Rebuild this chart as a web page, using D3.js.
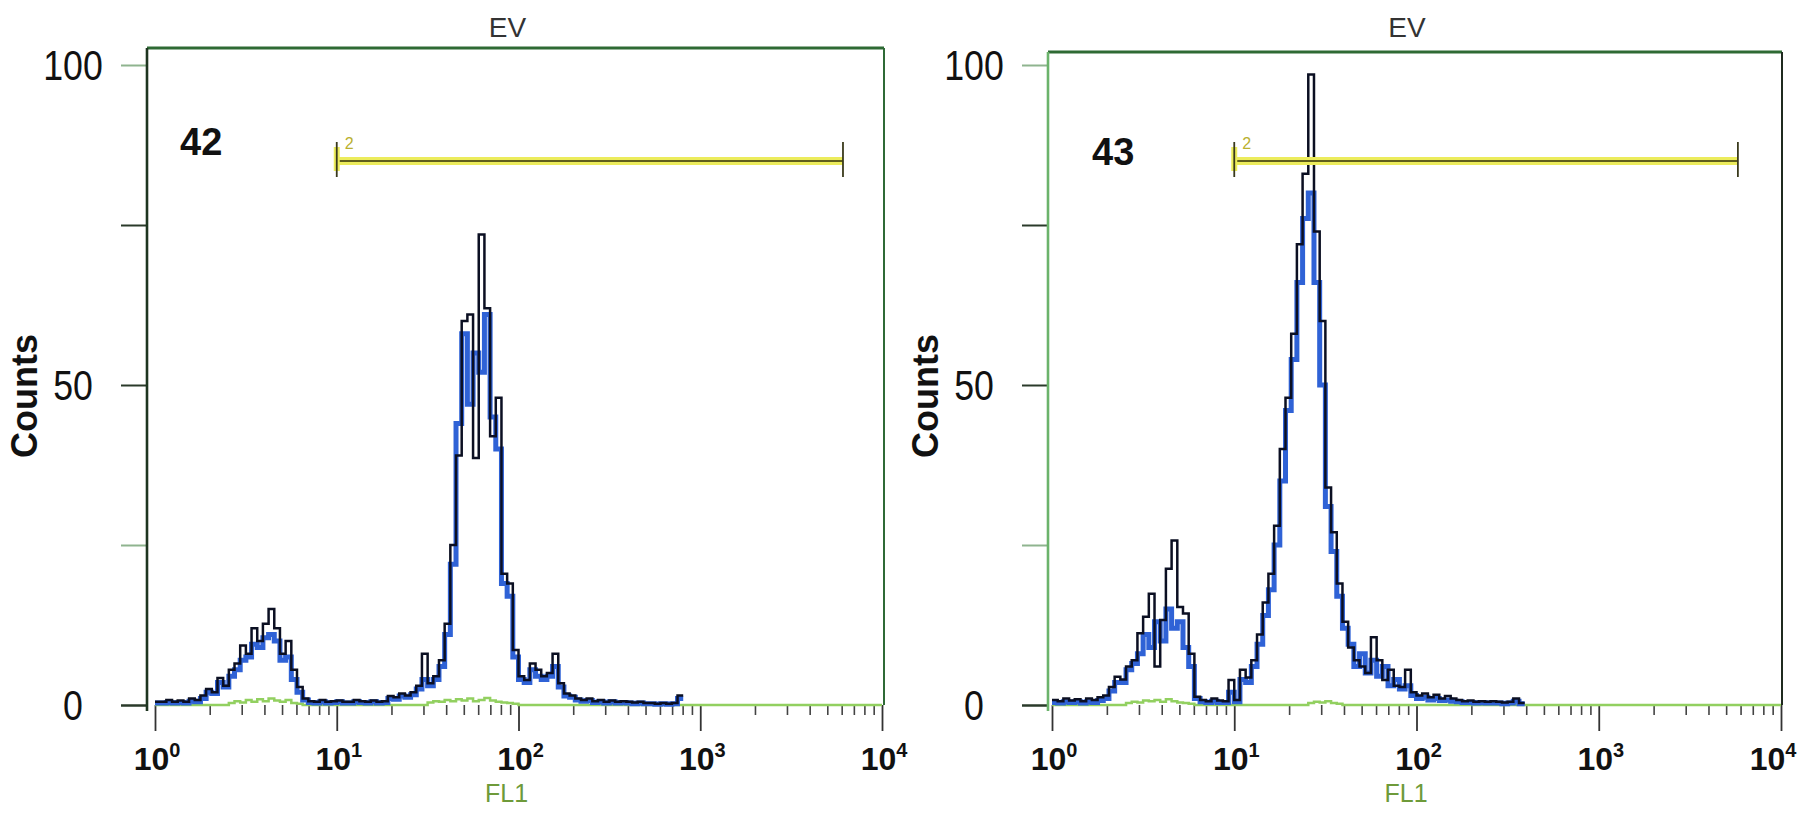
<!DOCTYPE html>
<html>
<head>
<meta charset="utf-8">
<script src="https://cdn.jsdelivr.net/npm/d3@7"></script>
<style>
body { margin: 0; background: #fff; }
svg { display: block; font-family: "Liberation Sans", Arial, sans-serif; }
</style>
</head>
<body>
<script>
var W = 1800, H = 817;
var binW = 4 / 128; // one FL1 channel, in decades

var sampleIds = ['42', '43'];
var panelTitle = 'EV';
var xTitle = 'FL1';
var yTitle = 'Counts';
var decades = [1, 10, 100, 1000, 10000];
var decadeExp = ['0', '1', '2', '3', '4'];
var yTicks = [0, 25, 50, 75, 100];
var yLabelled = [0, 50, 100];
var markerName = '2';
var markerFrom = [10, 10];
var markerTo = [6100, 5800];
var markerLevel = [85, 85];

// sample 42, counts per channel
var black42 = [
  0.5,0.5,0.8,0.5,0.7,0.5,1,0.8,1.5,2.5,
  2,4.2,3,5.5,6.5,9.3,8,12,10,12.7,
  15,12,8,10,5.5,2.8,1,0.6,0.5,0.8,
  0.5,0.6,0.7,0.5,0.5,0.8,0.6,0.5,0.7,0.5,
  0.6,1.4,1.2,1.8,1.5,2,3,8,3.4,4.5,
  7,12.7,25,39,60,61,38.6,73.5,62,42,
  48,20.5,19,8.6,4.5,3.9,6.5,5.5,4.5,5,
  8,3.4,1.8,1.5,1,0.8,1,0.6,0.8,0.5,
  0.7,0.5,0.6,0.5,0.4,0.5,0.3,0.3,0.2,0.3,
  0.2,0.3,1.5
];
var blue42 = [
  0.3,0.3,0.4,0.3,0.4,0.3,0.6,0.5,1,2,
  1.8,3.5,2.8,4.5,5.5,7,7.5,9.5,9,10.5,
  11,10,7,7.5,4,2,0.8,0.4,0.3,0.5,
  0.3,0.4,0.5,0.3,0.3,0.5,0.4,0.3,0.5,0.3,
  0.4,1,0.9,1.4,1.2,1.6,2.5,4,3,4,
  6,11,22,44,58,47,55,52,61,45,
  40,19,17,7.5,4,3.5,5.5,4.5,4,4.5,
  6,2.8,1.4,1.2,0.8,0.6,0.7,0.4,0.5,0.3,
  0.5,0.3,0.4,0.3,0.2,0.3,0.2,0.2,0.1,0.2,
  0.1,0.2,1
];
var control42 = [
  0,0,0,0,0,0,0,0,0,0,0,0,0,
  0.3,0.6,0.4,0.8,0.5,0.9,0.6,1,0.7,0.5,0.8,0.3,0.2,
  0,0,0,0,0,0,0,0,0,0,0,0,0,0,0,0,0,0,0,0,0,0,
  0.4,0.6,0.5,0.8,0.6,0.9,0.7,1,0.6,0.8,1.1,0.7,0.5,0.4,0.3,0.2,
  0,0,0,0,0,0,0,0, 0,0,0,0,0,0,0,0, 0,0,0,0,0,0,0,0, 0,0,0,0,0,0,0,0,
  0,0,0,0,0,0,0,0, 0,0,0,0,0,0,0,0, 0,0,0,0,0,0,0,0, 0,0,0,0,0,0,0,0
];

// sample 43
var black43 = [
  0.8,0.6,1,0.7,0.9,0.6,1,0.8,1.2,1.5,
  2.8,4.4,4,6,7,11.2,13.8,17.4,6,13.3,
  21.3,25.7,15.3,14.3,8,1.3,0.8,0.6,1,0.7,
  0.6,3.9,0.8,5.5,4.3,7,11,16,20.5,28,
  40,48,58,72,83,98.5,74,60,34,27,
  19,13,9,7,6,5,10.6,7,3.9,5.5,
  3,2.8,5.5,2,1.5,1.8,1.2,1.6,1,1.4,
  1,0.8,0.6,0.7,0.5,0.6,0.5,0.6,0.5,0.4,
  0.5,1,0.3
];
var blue43 = [
  0.4,0.3,0.5,0.4,0.5,0.3,0.5,0.4,0.7,1,
  2.2,3.5,3.5,5.5,6.5,8,11,9,13,10,
  15,12,13,9,6,1,0.5,0.4,0.6,0.4,
  0.4,2,0.5,4,3.5,6,9.5,14,18,25,
  35,46,54,66,76,80,66,50,31,24,
  17,12,9.5,6,8,5,7,4.5,6,3,
  4,2.5,3,1.5,1,1.2,0.8,1,0.7,0.8,
  0.6,0.5,0.4,0.4,0.3,0.4,0.3,0.3,0.3,0.2,
  0.3,0.6,0.2
];
var control43 = [
  0,0,0,0,0,0,0,0,0,0,0,0,0,
  0.3,0.5,0.4,0.7,0.6,0.8,0.5,0.9,0.6,0.4,0.3,0.2,
  0,0,0,0,0,0,0,0,0,0,0,0,0,0,0,0,0,0,0,0,
  0.3,0.5,0.4,0.6,0.3,0.2,
  0,0,0,0,0,0,0,0, 0,0,0,0,0,0,0,0, 0,0,0,0,0,0,0,0, 0,0,0,0,0,0,0,0,
  0,0,0,0,0,0,0,0, 0,0,0,0,0,0,0,0, 0,0,0,0,0,0,0,0, 0,0,0,0,0,0,0,0,
  0,0,0,0,0,0,0,0,0,0,0,0,0
];

var panels = [
  { id: sampleIds[0], black: black42, blue: blue42, control: control42,
    x0: 155, x1: 882, axisX: 147, top: 48, right: 884, idX: 180, idY: 155,
    axisColor: '#1e3520', edgeColor: '#2f6a36', markerFrom: markerFrom[0], markerTo: markerTo[0], markerLevel: markerLevel[0] },
  { id: sampleIds[1], black: black43, blue: blue43, control: control43,
    x0: 1052, x1: 1781, axisX: 1048, top: 52, right: 1782, idX: 1092, idY: 165,
    axisColor: '#6bb36b', edgeColor: '#1f2a1f', markerFrom: markerFrom[1], markerTo: markerTo[1], markerLevel: markerLevel[1] }
];

var yBase = 705, y100 = 65;

var svg = d3.select('body').append('svg')
  .attr('width', W).attr('height', H);

function histPoints(counts) {
  var pts = counts.map(function(c, i) { return { lg: i * binW, c: c }; });
  pts.push({ lg: counts.length * binW, c: counts[counts.length - 1] });
  return pts;
}

panels.forEach(function(p) {
  var x = d3.scaleLog().domain([1, 10000]).range([p.x0, p.x1]);
  var y = d3.scaleLinear().domain([0, 100]).range([yBase, y100]);
  var g = svg.append('g');
  var mid = (p.axisX + p.right) / 2;

  var line = d3.line()
    .x(function(d) { return x(Math.pow(10, d.lg)); })
    .y(function(d) { return y(d.c); })
    .curve(d3.curveStepAfter);

  // y ticks
  var yAxis = g.append('g')
    .attr('transform', 'translate(' + p.axisX + ',0)')
    .call(d3.axisLeft(y).tickValues(yTicks).tickSize(26).tickFormat(''));
  yAxis.select('.domain').remove();
  yAxis.selectAll('.tick line')
    .attr('stroke', function(d) { return (d === 25 || d === 100) ? '#8fb48f' : '#2a3a2a'; })
    .attr('stroke-width', function(d) { return d === 0 ? 2.5 : 2; });

  g.selectAll('.ylab')
    .data(yLabelled)
    .enter().append('text')
    .attr('class', 'ylab')
    .attr('transform', function(d) { return 'translate(' + (p.axisX - 74) + ',' + (y(d) + 15) + ') scale(0.85,1)'; })
    .attr('text-anchor', 'middle')
    .attr('font-size', 42)
    .attr('fill', '#111')
    .text(function(d) { return d; });

  // x ticks
  var minor = [];
  decades.slice(0, 4).forEach(function(dv) {
    [2, 3, 4, 5, 6, 7, 8, 9].forEach(function(m) { minor.push(m * dv); });
  });
  var xMajor = g.append('g')
    .attr('transform', 'translate(0,' + yBase + ')')
    .call(d3.axisBottom(x).tickValues(decades).tickSize(26).tickFormat(''));
  xMajor.select('.domain').remove();
  xMajor.selectAll('.tick line').attr('stroke', '#333').attr('stroke-width', 1.8);
  var xMinor = g.append('g')
    .attr('transform', 'translate(0,' + yBase + ')')
    .call(d3.axisBottom(x).tickValues(minor).tickSize(10).tickFormat(''));
  xMinor.select('.domain').remove();
  xMinor.selectAll('.tick line').attr('stroke', '#444').attr('stroke-width', 1.6);

  var xl = g.selectAll('.xlab')
    .data(decades)
    .enter().append('text')
    .attr('class', 'xlab')
    .attr('x', function(d) { return Math.min(x(d) + 2, W - 27); })
    .attr('y', 770)
    .attr('text-anchor', 'middle')
    .attr('font-size', 32)
    .attr('font-weight', 'bold')
    .attr('fill', '#111');
  xl.append('tspan').text('10');
  xl.append('tspan')
    .attr('dy', -13)
    .attr('font-size', 20)
    .text(function(d, i) { return decadeExp[i]; });

  // control histogram (green/yellow, along baseline)
  g.append('path')
    .attr('d', line(histPoints(p.control)))
    .attr('fill', 'none')
    .attr('stroke', '#92d060')
    .attr('stroke-width', 2.5);

  // blue histogram
  g.append('path')
    .attr('d', line(histPoints(p.blue)))
    .attr('fill', 'none')
    .attr('stroke', '#2f62d6')
    .attr('stroke-width', 5)
    .attr('stroke-linejoin', 'miter');

  // black histogram
  g.append('path')
    .attr('d', line(histPoints(p.black)))
    .attr('fill', 'none')
    .attr('stroke', '#0b0f22')
    .attr('stroke-width', 2.5);

  // frame
  g.append('line')
    .attr('x1', p.axisX).attr('x2', p.right)
    .attr('y1', p.top).attr('y2', p.top)
    .attr('stroke', '#2e6a34').attr('stroke-width', 3);
  g.append('line')
    .attr('x1', p.right).attr('x2', p.right)
    .attr('y1', p.top).attr('y2', yBase)
    .attr('stroke', p.edgeColor).attr('stroke-width', 2);
  g.append('line')
    .attr('x1', p.axisX).attr('x2', p.axisX)
    .attr('y1', p.top).attr('y2', yBase + 6)
    .attr('stroke', p.axisColor).attr('stroke-width', 2.6);

  // marker bar
  var mx0 = x(p.markerFrom), mx1 = x(p.markerTo), my = y(p.markerLevel);
  g.append('line')
    .attr('x1', mx0).attr('x2', mx1).attr('y1', my).attr('y2', my)
    .attr('stroke', '#ecec5c').attr('stroke-width', 8);
  g.append('line')
    .attr('x1', mx0).attr('x2', mx1).attr('y1', my).attr('y2', my)
    .attr('stroke', '#5f5e1c').attr('stroke-width', 2);
  g.append('line')
    .attr('x1', mx0).attr('x2', mx0).attr('y1', my - 14).attr('y2', my + 10)
    .attr('stroke', '#ecec5c').attr('stroke-width', 6);
  [mx0, mx1].forEach(function(mx) {
    g.append('line')
      .attr('x1', mx).attr('x2', mx).attr('y1', my - 19).attr('y2', my + 16)
      .attr('stroke', '#3a3a1c').attr('stroke-width', 1.8);
  });
  g.append('text')
    .attr('x', mx0 + 8).attr('y', my - 12)
    .attr('font-size', 16)
    .attr('fill', '#b9b030')
    .text(markerName);

  // texts
  g.append('text')
    .attr('x', p.idX).attr('y', p.idY)
    .attr('font-size', 38).attr('font-weight', 'bold')
    .attr('fill', '#111')
    .text(p.id);
  g.append('text')
    .attr('x', mid - 8).attr('y', 37)
    .attr('text-anchor', 'middle')
    .attr('font-size', 28)
    .attr('fill', '#333')
    .text(panelTitle);
  g.append('text')
    .attr('x', mid - 9).attr('y', 802)
    .attr('text-anchor', 'middle')
    .attr('font-size', 25)
    .attr('fill', '#6e9a3a')
    .text(xTitle);
  g.append('text')
    .attr('transform', 'translate(' + (p.axisX - 110) + ',396) rotate(-90)')
    .attr('text-anchor', 'middle')
    .attr('font-size', 36)
    .attr('font-weight', 'bold')
    .attr('fill', '#111')
    .text(yTitle);
});
</script>
</body>
</html>
